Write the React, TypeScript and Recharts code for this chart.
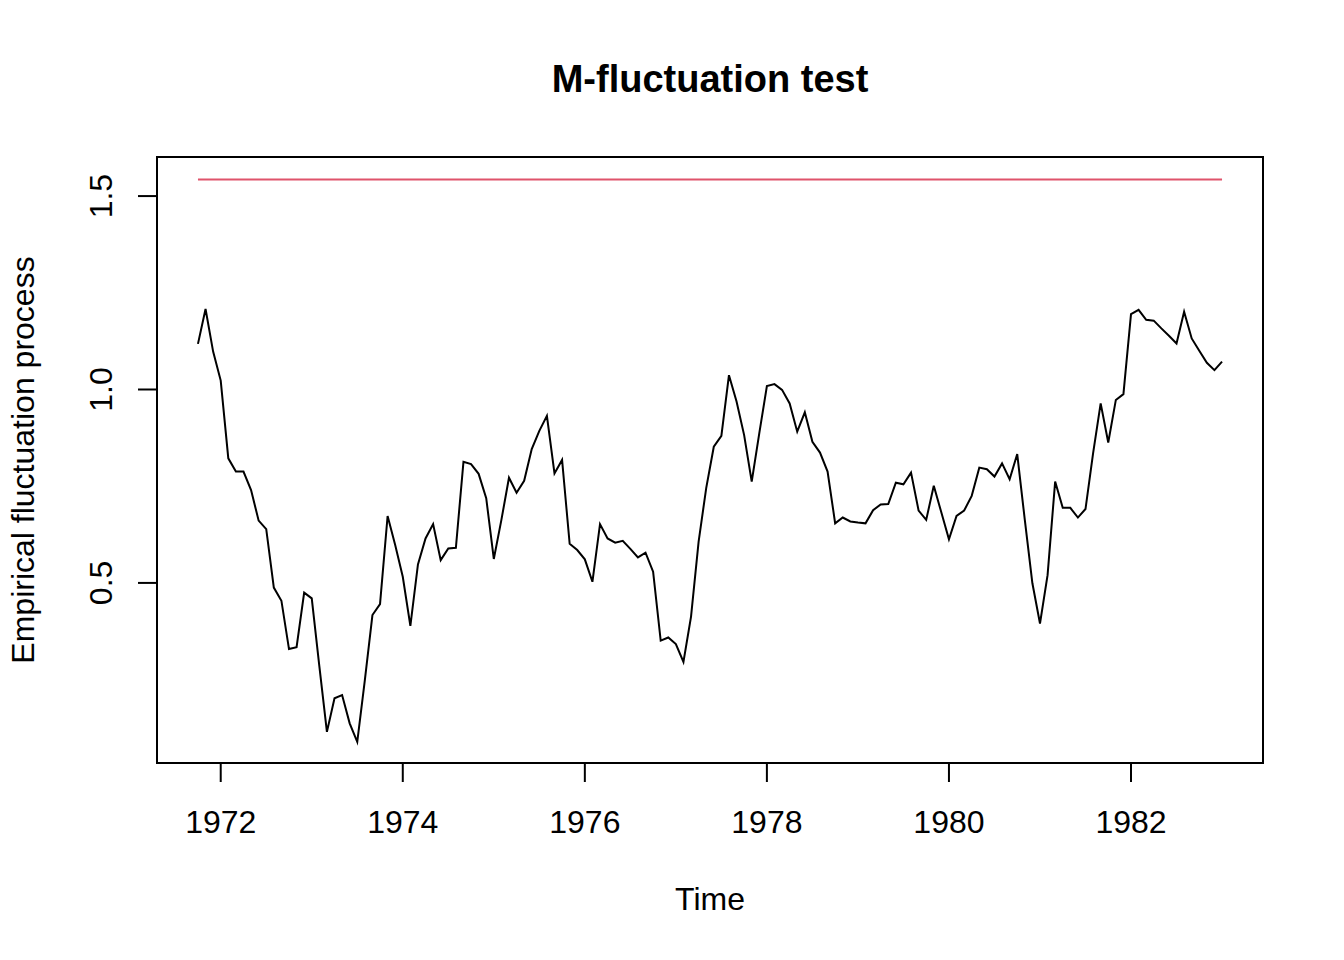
import React from 'react';
import { LineChart, Line, XAxis, YAxis, ReferenceArea, ReferenceLine } from 'recharts';

// Monthly time series (like R ts): start 1971, period 10, frequency 12
const START_YEAR = 1971;
const START_PERIOD = 10;
const FREQUENCY = 12;

const processValues: number[] = [
  1.118, 1.208, 1.098, 1.023, 0.822, 0.788, 0.788, 0.740, 0.661, 0.639,
  0.488, 0.454, 0.329, 0.334, 0.475, 0.460, 0.285, 0.115, 0.202, 0.210,
  0.137, 0.089, 0.249, 0.417, 0.445, 0.673, 0.598, 0.516, 0.389, 0.548,
  0.615, 0.652, 0.559, 0.589, 0.591, 0.813, 0.807, 0.782, 0.719, 0.562,
  0.663, 0.772, 0.733, 0.764, 0.846, 0.893, 0.932, 0.783, 0.818, 0.601,
  0.585, 0.561, 0.503, 0.652, 0.615, 0.604, 0.609, 0.588, 0.566, 0.578,
  0.529, 0.351, 0.359, 0.342, 0.296, 0.413, 0.607, 0.745, 0.852, 0.880,
  1.037, 0.969, 0.882, 0.762, 0.887, 1.009, 1.014, 0.999, 0.964, 0.891,
  0.941, 0.865, 0.837, 0.788, 0.654, 0.669, 0.659, 0.656, 0.654, 0.688,
  0.703, 0.704, 0.759, 0.755, 0.785, 0.687, 0.663, 0.751, 0.682, 0.613,
  0.673, 0.687, 0.725, 0.798, 0.794, 0.775, 0.809, 0.768, 0.833, 0.663,
  0.499, 0.395, 0.520, 0.762, 0.694, 0.694, 0.669, 0.691, 0.835, 0.964,
  0.863, 0.973, 0.988, 1.195, 1.206, 1.180, 1.178, 1.158, 1.139, 1.119,
  1.201, 1.132, 1.100, 1.069, 1.050, 1.072,
];

// Critical boundary (alpha = 0.05)
const BOUNDARY = 1.543;

const xTicks: number[] = [1972, 1974, 1976, 1978, 1980, 1982];
const yTicks: number[] = [0.5, 1.0, 1.5];

const X_DOMAIN: [number, number] = [1971.3, 1983.45];
const Y_DOMAIN: [number, number] = [0.0345, 1.601];

const data = processValues.map((v, i) => ({
  time: START_YEAR + (START_PERIOD - 1 + i) / FREQUENCY,
  value: v,
}));

const FONT = '"Liberation Sans", Arial, Helvetica, sans-serif';

const XTick = (props: any) => {
  const { x, y, payload } = props;
  return (
    <text x={x} y={y} dy="0.71em" textAnchor="middle" fontSize={32} fontFamily={FONT} fill="#000">
      {String(payload.value)}
    </text>
  );
};

const YTick = (props: any) => {
  const { x, y, payload } = props;
  return (
    <text
      x={x}
      y={y}
      textAnchor="middle"
      fontSize={32}
      fontFamily={FONT}
      fill="#000"
      transform={`rotate(-90, ${x}, ${y})`}
    >
      {Number(payload.value).toFixed(1)}
    </text>
  );
};

export default function App() {
  const first = data[0].time;
  const last = data[data.length - 1].time;
  return (
    <div style={{ position: 'absolute', left: 0, top: 0, width: 1344, height: 960, background: '#fff' }}>
      <LineChart
        width={1344}
        height={960}
        data={data}
        margin={{ top: 157, right: 81, bottom: 97, left: 57 }}
      >
        <XAxis
          dataKey="time"
          type="number"
          domain={X_DOMAIN}
          ticks={xTicks}
          allowDataOverflow
          height={100}
          axisLine={false}
          tickLine={{ stroke: '#000', strokeWidth: 2 }}
          tickSize={19}
          tickMargin={28}
          tick={<XTick />}
          interval={0}
        />
        <YAxis
          type="number"
          domain={Y_DOMAIN}
          ticks={yTicks}
          allowDataOverflow
          width={100}
          axisLine={false}
          tickLine={{ stroke: '#000', strokeWidth: 2 }}
          tickSize={19}
          tickMargin={26}
          tick={<YTick />}
          interval={0}
        />
        <ReferenceArea
          x1={X_DOMAIN[0]}
          x2={X_DOMAIN[1]}
          y1={Y_DOMAIN[0]}
          y2={Y_DOMAIN[1]}
          fill="none"
          stroke="#000"
          strokeWidth={2}
        />
        <ReferenceLine
          segment={[{ x: first, y: BOUNDARY }, { x: last, y: BOUNDARY }]}
          stroke="#DF536B"
          strokeWidth={2}
        />
        <Line
          type="linear"
          dataKey="value"
          stroke="#000"
          strokeWidth={2}
          dot={false}
          isAnimationActive={false}
        />
      </LineChart>
      <svg
        width={1344}
        height={960}
        style={{ position: 'absolute', left: 0, top: 0, pointerEvents: 'none' }}
      >
        <text x={710} y={92} textAnchor="middle" fontSize={38} fontWeight="bold" fontFamily={FONT} fill="#000">
          M-fluctuation test
        </text>
        <text x={710} y={910} textAnchor="middle" fontSize={32} fontFamily={FONT} fill="#000">
          Time
        </text>
        <text
          x={34}
          y={460}
          textAnchor="middle"
          fontSize={32}
          fontFamily={FONT}
          fill="#000"
          transform="rotate(-90, 34, 460)"
        >
          Empirical fluctuation process
        </text>
      </svg>
    </div>
  );
}
